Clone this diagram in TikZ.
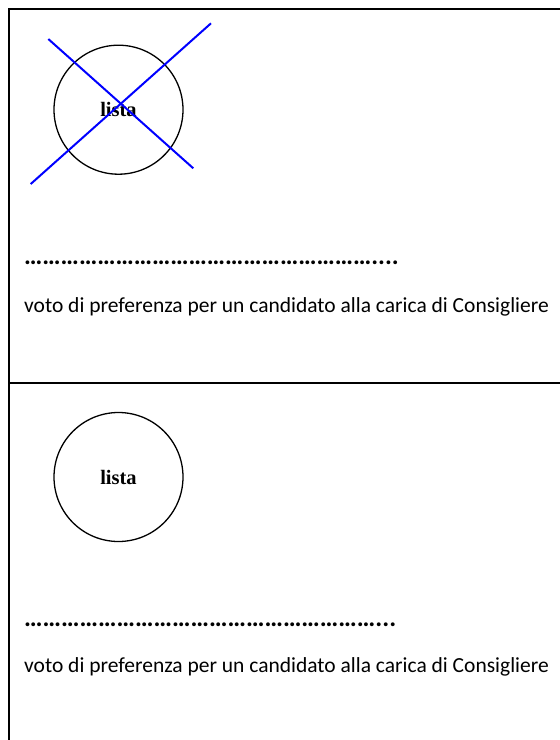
\documentclass[tikz,border=0pt]{standalone}
\usepackage{fontspec}
\setmainfont{Carlito}
\newfontfamily\listafont{Liberation Serif}
\begin{document}
\begin{tikzpicture}[x=1pt,y=-1pt,
  frame/.style={line width=2pt, line cap=rect},
  listacircle/.style={circle, draw, line width=1.3pt, minimum size=129pt, inner sep=0pt,
    font=\listafont\bfseries\fontsize{20.5}{24}\selectfont},
  cross/.style={draw=blue, line width=2pt},
  dotsline/.style={anchor=base west, inner sep=0pt},
  votetext/.style={anchor=base west, inner sep=0pt, font=\fontsize{21.5}{24}\selectfont}]
\useasboundingbox (0,0) rectangle (560,740);
% frame
\coordinate (tl) at (9,9);
\coordinate (tr) at (561,9);
\coordinate (bl) at (9,741);
\coordinate (ml) at (9,383);
\coordinate (mr) at (561,383);
\draw[frame] (bl) -- (tl) -- (tr);
\draw[frame] (ml) -- (mr);
% top section
\node[listacircle] (c1) at (118.5,109.7) {lista};
\coordinate (a1) at (48.3,39);
\coordinate (a2) at (193.3,168.3);
\coordinate (b1) at (211,23.3);
\coordinate (b2) at (30.7,184);
\draw[cross] (a1) -- (a2);
\draw[cross] (b1) -- (b2);
\node[dotsline, font=\bfseries\fontsize{25.7}{30}\selectfont] (d1) at (24,264) {…………………………………………………....};
\node[votetext] (t1) at (24,312) {voto di preferenza per un candidato alla carica di Consigliere};
% bottom section
\node[listacircle] (c2) at (118.5,477) {lista};
\node[dotsline, font=\bfseries\fontsize{26}{30}\selectfont] (d2) at (24,626) {…………………………………………………...};
\node[votetext] (t2) at (24,672.5) {voto di preferenza per un candidato alla carica di Consigliere};
\end{tikzpicture}
\end{document}
